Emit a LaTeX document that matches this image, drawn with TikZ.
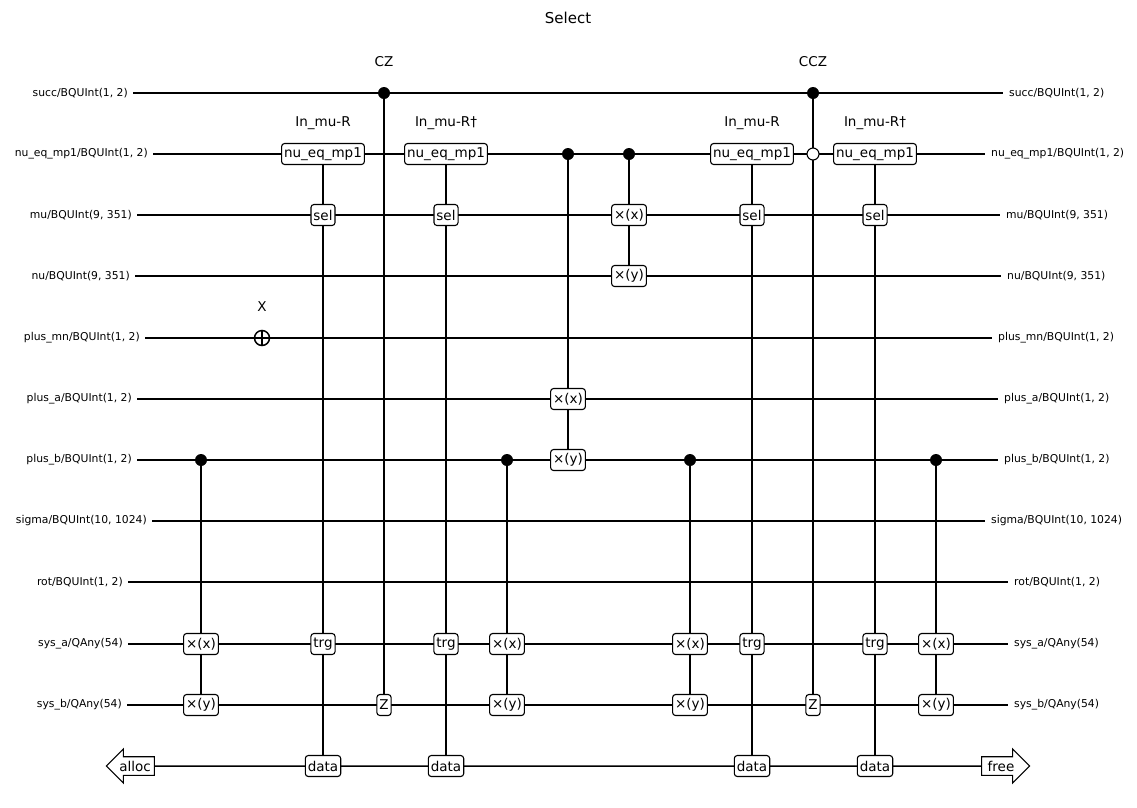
\documentclass[tikz,border=0pt]{standalone}
\usepackage{fontspec}
\setmainfont{DejaVu Sans}
\usetikzlibrary{shapes.arrows}
\begin{document}
\begin{tikzpicture}[x=1pt,y=-1pt,
  wlab/.style={font=\fontsize{10.8}{12}\selectfont,inner sep=0pt},
  gbox/.style={draw,fill=white,rounded corners=3pt,font=\fontsize{13.5}{14}\selectfont,inner sep=2.5pt,minimum height=21pt,line width=1.1pt},
  glab/.style={font=\fontsize{13.5}{14}\selectfont},
  ctl/.style={circle,fill=black,inner sep=0pt,minimum size=12pt},
  octl/.style={circle,draw,fill=white,inner sep=0pt,minimum size=12pt,line width=1.1pt},
  wire/.style={line width=1.5pt},
  arr/.style={draw,fill=white,single arrow,single arrow head extend=6pt,minimum height=48pt,minimum width=34pt,inner sep=1.5pt,font=\fontsize{13.5}{14}\selectfont,line width=1.1pt}]
\useasboundingbox (0,0) rectangle (1137,807);
\node[font=\fontsize{15}{16}\selectfont] (title) at (568,18) {Select};
% wires
\foreach \n/\y/\a/\b/\L in {
 w0/93/133/1003/{succ/BQUInt(1, 2)},
 w1/154/153/985/{nu\_eq\_mp1/BQUInt(1, 2)},
 w2/215/137/1000/{mu/BQUInt(9, 351)},
 w3/276/135/1001/{nu/BQUInt(9, 351)},
 w4/338/145/992/{plus\_mn/BQUInt(1, 2)},
 w5/399/137/998/{plus\_a/BQUInt(1, 2)},
 w6/460/137/998/{plus\_b/BQUInt(1, 2)},
 w7/521/152/985/{sigma/BQUInt(10, 1024)},
 w8/582/128/1008/{rot/BQUInt(1, 2)},
 w9/644/128/1008/{sys\_a/QAny(54)},
 w10/705/127/1008/{sys\_b/QAny(54)}}{
  \coordinate (\n s) at (\a,\y);
  \coordinate (\n e) at (\b,\y);
  \node[wlab,anchor=east] (\n L) at (\a-5,\y) {\L};
  \node[wlab,anchor=west] (\n R) at (\b+6,\y) {\L};
  \draw[wire] (\n s) -- (\n e);
}
\node[arr,shape border rotate=180] (alloc) at (135,766) {alloc};
\node[arr] (free) at (1001,766) {free};
\draw[wire] (alloc.east) -- (free.west);
% verticals
\foreach \x/\t/\b in {384/93/705,323/154/766,446/154/766,201/460/705,507/460/705,568/154/460,629/154/276,690/460/705,752/154/766,813/93/705,875/154/766,936/460/705}{
  \draw[wire] (\x,\t) -- (\x,\b);
}
% CZ / CCZ
\node[ctl] (cz0) at (384,93) {};
\node[gbox] (cz1) at (384,705) {Z};
\node[glab] (czl) at (384,62) {CZ};
\node[ctl] (ccz0) at (813,93) {};
\node[octl] (ccz1) at (813,154) {};
\node[gbox] (ccz2) at (813,705) {Z};
\node[glab] (cczl) at (813,62) {CCZ};
% In_mu-R
\foreach \x/\l/\k in {323/In\_mu-R/a,446/In\_mu-R†/b,752/In\_mu-R/c,875/In\_mu-R†/d}{
  \node[glab] (m\k l) at (\x,123) {\l};
  \node[gbox] (m\k 1) at (\x,154) {nu\_eq\_mp1};
  \node[gbox] (m\k 2) at (\x,215) {sel};
  \node[gbox] (m\k 3) at (\x,644) {trg};
  \node[gbox] (m\k 4) at (\x,766) {data};
}
% X
\node[glab] (xl) at (262,307) {X};
\node[circle,draw,fill=white,inner sep=0pt,minimum size=15pt,line width=1.5pt] (xg) at (262,338) {};
\draw[line width=1.5pt] (xg.north) -- (xg.south) (xg.west) -- (xg.east);
% swaps
\foreach \x/\c/\p/\q/\k in {201/460/644/705/a,507/460/644/705/b,568/154/399/460/c,629/154/215/276/d,690/460/644/705/e,936/460/644/705/f}{
  \node[ctl] (s\k 0) at (\x,\c) {};
  \node[gbox] (s\k 1) at (\x,\p) {×(x)};
  \node[gbox] (s\k 2) at (\x,\q) {×(y)};
}
\end{tikzpicture}
\end{document}
